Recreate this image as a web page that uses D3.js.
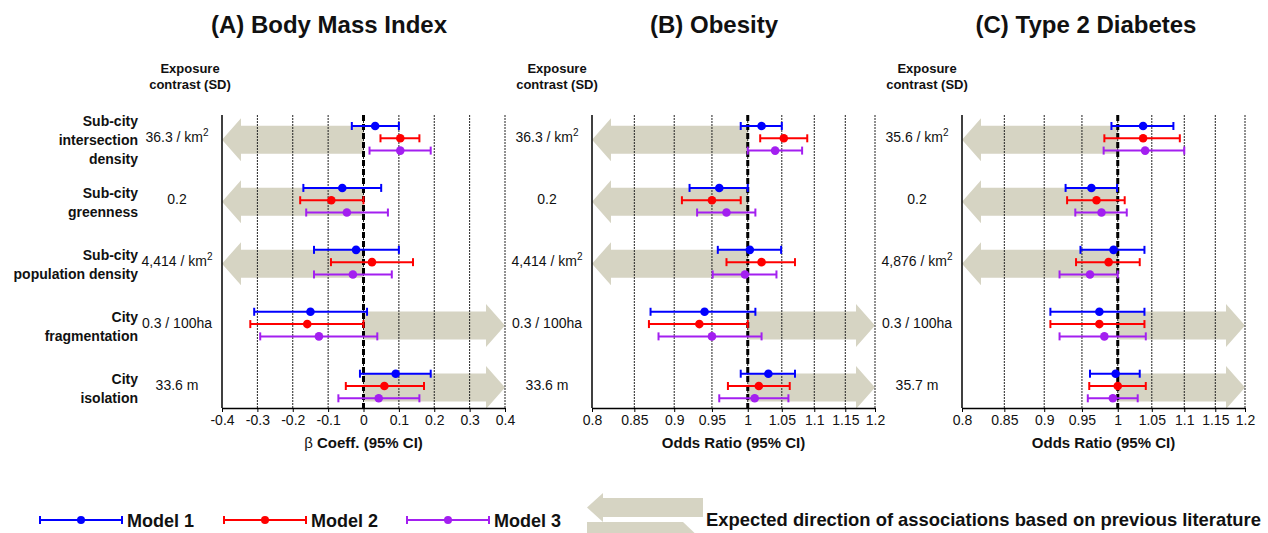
<!DOCTYPE html>
<html>
<head>
<meta charset="utf-8">
<script src="https://cdn.jsdelivr.net/npm/d3@7"></script>
<style>
  body { margin: 0; background: #fff; }
  text { font-family: 'Liberation Sans', Arial, sans-serif; fill: #111; }
</style>
</head>
<body>
<script>
// variables:
var w = 1268
var h = 533
var plotTop = 115
var plotBottom = 408
var plotW = 283
var modelGap = 12.3
var arrowFill = '#d6d4c3'

// data
var models = ['Model 1', 'Model 2', 'Model 3']
var modelColors = ['#0000ff', '#ff0000', '#a31ff0']
var exposures = ['intersection', 'greenness', 'population', 'fragmentation', 'isolation']
var exposureLines = [['Sub-city', 'intersection', 'density'], ['Sub-city', 'greenness'],
  ['Sub-city', 'population density'], ['City', 'fragmentation'], ['City', 'isolation']]
var expectedDir = ['left', 'left', 'left', 'right', 'right']

var contrastBMI = ['36.3 / km|2', '0.2', '4,414 / km|2', '0.3 / 100ha', '33.6 m']
var contrastOB = ['36.3 / km|2', '0.2', '4,414 / km|2', '0.3 / 100ha', '33.6 m']
var contrastT2D = ['35.6 / km|2', '0.2', '4,876 / km|2', '0.3 / 100ha', '35.7 m']

// rows = exposures, columns = Model 1, 2, 3
var bmiPoint = [[0.033, 0.104, 0.104], [-0.060, -0.091, -0.047], [-0.021, 0.024, -0.030], [-0.150, -0.159, -0.126], [0.091, 0.059, 0.043]]
var bmiLow = [[-0.033, 0.048, 0.017], [-0.170, -0.179, -0.162], [-0.140, -0.092, -0.140], [-0.309, -0.320, -0.292], [-0.010, -0.050, -0.071]]
var bmiHigh = [[0.100, 0.158, 0.190], [0.050, 0.000, 0.069], [0.100, 0.140, 0.080], [0.010, 0.000, 0.039], [0.190, 0.171, 0.158]]

var obPoint = [[1.020, 1.053, 1.040], [0.960, 0.950, 0.970], [1.003, 1.020, 0.996], [0.940, 0.933, 0.950], [1.030, 1.016, 1.010]]
var obLow = [[0.990, 1.018, 1.000], [0.920, 0.910, 0.930], [0.958, 0.970, 0.951], [0.870, 0.868, 0.880], [0.990, 0.972, 0.960]]
var obHigh = [[1.050, 1.089, 1.081], [1.000, 0.990, 1.011], [1.049, 1.070, 1.042], [1.011, 1.000, 1.020], [1.070, 1.062, 1.060]]

var t2dPoint = [[1.037, 1.037, 1.040], [0.963, 0.970, 0.977], [0.994, 0.987, 0.961], [0.974, 0.974, 0.981], [0.997, 1.000, 0.993]]
var t2dLow = [[0.991, 0.981, 0.980], [0.928, 0.930, 0.941], [0.948, 0.942, 0.920], [0.908, 0.908, 0.920], [0.961, 0.960, 0.958]]
var t2dHigh = [[1.083, 1.093, 1.100], [0.999, 1.010, 1.013], [1.039, 1.032, 1.000], [1.039, 1.039, 1.041], [1.032, 1.041, 1.029]]

var betaTicks = [-0.4, -0.3, -0.2, -0.1, 0, 0.1, 0.2, 0.3, 0.4]
var orTicks = [0.8, 0.85, 0.9, 0.95, 1, 1.05, 1.1, 1.15, 1.2]

var panels = [
  { title: '(A) Body Mass Index', titleX: 329, left: 222, log: false, domain: [-0.4, 0.4], ref: 0, ticks: betaTicks,
    point: bmiPoint, low: bmiLow, high: bmiHigh, contrast: contrastBMI, axisTitle: 'beta', headX: 190 },
  { title: '(B) Obesity', titleX: 714, left: 592, log: true, domain: [0.8, 1.2], ref: 1, ticks: orTicks,
    point: obPoint, low: obLow, high: obHigh, contrast: contrastOB, axisTitle: 'Odds Ratio (95% CI)', headX: 557 },
  { title: '(C) Type 2 Diabetes', titleX: 1086, left: 962, log: true, domain: [0.8, 1.2], ref: 1, ticks: orTicks,
    point: t2dPoint, low: t2dLow, high: t2dHigh, contrast: contrastT2D, axisTitle: 'Odds Ratio (95% CI)', headX: 927 }
]

var svg = d3.select('body')
  .append('svg')
  .attr('width', w)
  .attr('height', h)

// group centre (Model 2 row) for each exposure
var yScale = d3.scalePoint()
  .domain(exposures)
  .range([138.3, 386])

// helper: text with "|" marking a superscript
function addValueText (sel, str) {
  var parts = str.split('|')
  sel.append('tspan').text(parts[0])
  if (parts[1]) {
    sel.append('tspan').attr('dy', -6).attr('font-size', '10px').text(parts[1])
  }
}

function arrowPoints (xTip, xBase, cy, bodyH, headH, headL) {
  var s = xTip < xBase ? 1 : -1
  var xh = xTip + s * headL
  return [[xBase, cy - bodyH], [xh, cy - bodyH], [xh, cy - headH], [xTip, cy],
    [xh, cy + headH], [xh, cy + bodyH], [xBase, cy + bodyH]]
}

// row labels (panel A only)
exposureLines.forEach(function (lines, i) {
  var cy = yScale(exposures[i]) + 2
  var t = svg.append('text')
    .attr('text-anchor', 'end')
    .attr('font-size', '14px')
    .attr('font-weight', 'bold')
  lines.forEach(function (l, k) {
    t.append('tspan')
      .attr('x', 138)
      .attr('y', cy + 5 + (k - (lines.length - 1) / 2) * 19)
      .text(l)
  })
})

panels.forEach(function (p) {
  var x = (p.log ? d3.scaleLog() : d3.scaleLinear())
    .domain(p.domain)
    .range([p.left, p.left + plotW])

  var g = svg.append('g')

  // title
  g.append('text')
    .attr('x', p.titleX)
    .attr('y', 33)
    .attr('text-anchor', 'middle')
    .attr('font-size', '24px')
    .attr('font-weight', 'bold')
    .text(p.title)

  // exposure contrast header
  g.append('text')
    .attr('x', p.headX)
    .attr('y', 73)
    .attr('text-anchor', 'middle')
    .attr('font-size', '13px')
    .attr('font-weight', 'bold')
    .text('Exposure')
  g.append('text')
    .attr('x', p.headX)
    .attr('y', 89)
    .attr('text-anchor', 'middle')
    .attr('font-size', '13px')
    .attr('font-weight', 'bold')
    .text('contrast (SD)')

  // expected direction arrows
  g.selectAll('polygon.dir')
    .data(exposures)
    .enter()
    .append('polygon')
    .attr('class', 'dir')
    .attr('fill', arrowFill)
    .attr('points', function (d, i) {
      var xTip = expectedDir[i] === 'left' ? x(p.domain[0]) : x(p.domain[1])
      return arrowPoints(xTip, x(p.ref), yScale(d) + 1.5, 14, 21.5, 19).join(' ')
    })

  // grid lines
  g.selectAll('line.grid')
    .data(p.ticks.slice(1))
    .enter()
    .append('line')
    .attr('x1', function (d) { return x(d) })
    .attr('x2', function (d) { return x(d) })
    .attr('y1', plotTop)
    .attr('y2', plotBottom)
    .attr('stroke', '#222')
    .attr('stroke-width', 1)
    .attr('stroke-dasharray', '2,1')

  // reference line
  g.append('line')
    .attr('x1', x(p.ref))
    .attr('x2', x(p.ref))
    .attr('y1', plotTop)
    .attr('y2', plotBottom)
    .attr('stroke', '#000')
    .attr('stroke-width', 3)
    .attr('stroke-dasharray', '6,3')

  // left axis line
  g.append('line')
    .attr('x1', p.left)
    .attr('x2', p.left)
    .attr('y1', plotTop)
    .attr('y2', plotBottom)
    .attr('stroke', '#000')
    .attr('stroke-width', 1.5)

  // bottom axis
  var axis = d3.axisBottom(x)
    .tickValues(p.ticks)
    .tickSize(4)
    .tickSizeOuter(0)
    .tickFormat(function (d) { return String(+d.toFixed(2)) })
  var ag = g.append('g')
    .attr('transform', 'translate(0,' + plotBottom + ')')
    .call(axis)
  ag.selectAll('text')
    .attr('font-size', '14px')
    .attr('font-family', "'Liberation Sans', Arial, sans-serif")
    .attr('fill', '#111')
  ag.select('.domain').attr('stroke-width', 1.5)

  // axis title
  var at = g.append('text')
    .attr('x', p.left + plotW / 2)
    .attr('y', 448)
    .attr('text-anchor', 'middle')
    .attr('font-size', '15px')
    .attr('font-weight', 'bold')
  if (p.axisTitle === 'beta') {
    at.append('tspan').attr('font-weight', 'normal').text('β ')
    at.append('tspan').text('Coeff. (95% CI)')
  } else {
    at.text(p.axisTitle)
  }

  // exposure contrast values
  p.contrast.forEach(function (c, i) {
    var t = g.append('text')
      .attr('x', p.left - 45)
      .attr('y', yScale(exposures[i]) + 3.5)
      .attr('text-anchor', 'middle')
      .attr('font-size', '14px')
    addValueText(t, c)
  })

  // error bars
  var rows = []
  exposures.forEach(function (e, i) {
    models.forEach(function (m, j) {
      rows.push({ e: e, j: j, pt: p.point[i][j], lo: p.low[i][j], hi: p.high[i][j] })
    })
  })
  var bars = g.selectAll('g.bar')
    .data(rows)
    .enter()
    .append('g')
    .attr('class', 'bar')
    .attr('transform', function (d) {
      return 'translate(0,' + (yScale(d.e) + (d.j - 1) * modelGap) + ')'
    })
  bars.append('line')
    .attr('x1', function (d) { return x(d.lo) })
    .attr('x2', function (d) { return x(d.hi) })
    .attr('stroke', function (d) { return modelColors[d.j] })
    .attr('stroke-width', 2)
  bars.append('line')
    .attr('x1', function (d) { return x(d.lo) })
    .attr('x2', function (d) { return x(d.lo) })
    .attr('y1', -4)
    .attr('y2', 4)
    .attr('stroke', function (d) { return modelColors[d.j] })
    .attr('stroke-width', 2)
  bars.append('line')
    .attr('x1', function (d) { return x(d.hi) })
    .attr('x2', function (d) { return x(d.hi) })
    .attr('y1', -4)
    .attr('y2', 4)
    .attr('stroke', function (d) { return modelColors[d.j] })
    .attr('stroke-width', 2)
  bars.append('circle')
    .attr('cx', function (d) { return x(d.pt) })
    .attr('r', 4.3)
    .attr('fill', function (d) { return modelColors[d.j] })
})

// legend: models
var legendX = [40, 224, 407]
models.forEach(function (m, j) {
  var lg = svg.append('g').attr('transform', 'translate(' + legendX[j] + ',520)')
  lg.append('line').attr('x1', 0).attr('x2', 82)
    .attr('stroke', modelColors[j]).attr('stroke-width', 2)
  lg.append('line').attr('x1', 0).attr('x2', 0).attr('y1', -4).attr('y2', 4)
    .attr('stroke', modelColors[j]).attr('stroke-width', 2)
  lg.append('line').attr('x1', 82).attr('x2', 82).attr('y1', -4).attr('y2', 4)
    .attr('stroke', modelColors[j]).attr('stroke-width', 2)
  lg.append('circle').attr('cx', 41).attr('r', 4)
    .attr('fill', modelColors[j])
  lg.append('text')
    .attr('x', 87)
    .attr('y', 6.5)
    .attr('font-size', '18px')
    .attr('font-weight', 'bold')
    .text(m)
})

// legend: direction arrows
svg.append('polygon')
  .attr('fill', arrowFill)
  .attr('points', arrowPoints(587, 703, 507.5, 9.5, 14.5, 16).join(' '))
svg.append('polygon')
  .attr('fill', arrowFill)
  .attr('points', [[587, 522], [683, 522], [703, 541], [683, 560], [587, 560]].join(' '))
svg.append('text')
  .attr('x', 706)
  .attr('y', 526)
  .attr('font-size', '18.4px')
  .attr('font-weight', 'bold')
  .text('Expected direction of associations based on previous literature')
</script>
</body>
</html>
